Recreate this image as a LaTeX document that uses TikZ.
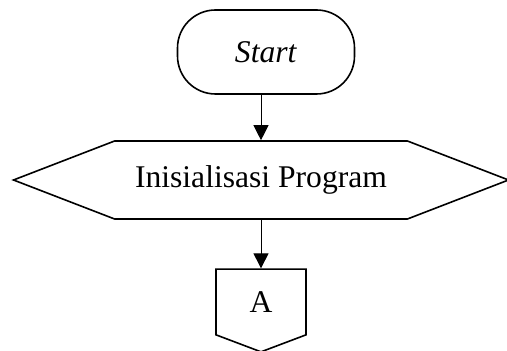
\documentclass[tikz,border=0pt]{standalone}
\usepackage{fontspec}
\setmainfont{Liberation Serif}
\usetikzlibrary{shapes.symbols,arrows.meta}

\begin{document}
\begin{tikzpicture}[font=\fontsize{15.8}{19}\selectfont,
  terminal/.style={draw, line width=0.8pt, rounded corners=19pt, minimum width=88.5pt, minimum height=42pt},
  hexbox/.style={draw, line width=0.8pt, shape=signal, signal to=east and west, signal pointer angle=42.2, minimum width=247.5pt, minimum height=39pt, inner sep=0pt},
  pagecon/.style={draw, line width=0.8pt, shape=signal, signal to=south, signal pointer angle=138.6, minimum width=45pt, minimum height=35pt, inner sep=0pt},
  arr/.style={-{Triangle[length=7.5pt,width=7.5pt]}, line width=0.5pt}]
     \useasboundingbox (-131.5pt,26pt) rectangle (122pt,-149.5pt);
     \node[terminal] (start) at (1.5pt,0) {\textit{Start}};
     \node[hexbox] (init) at (-1pt,-64pt) {Inisialisasi Program};
     \node[pagecon, below of=init, node distance=61pt] (conA) {A};
     \draw[arr] (start.south -| init.north) -- (init.north);
     \draw[arr] (init.south) -- (conA.north);
   \end{tikzpicture}
\end{document}
